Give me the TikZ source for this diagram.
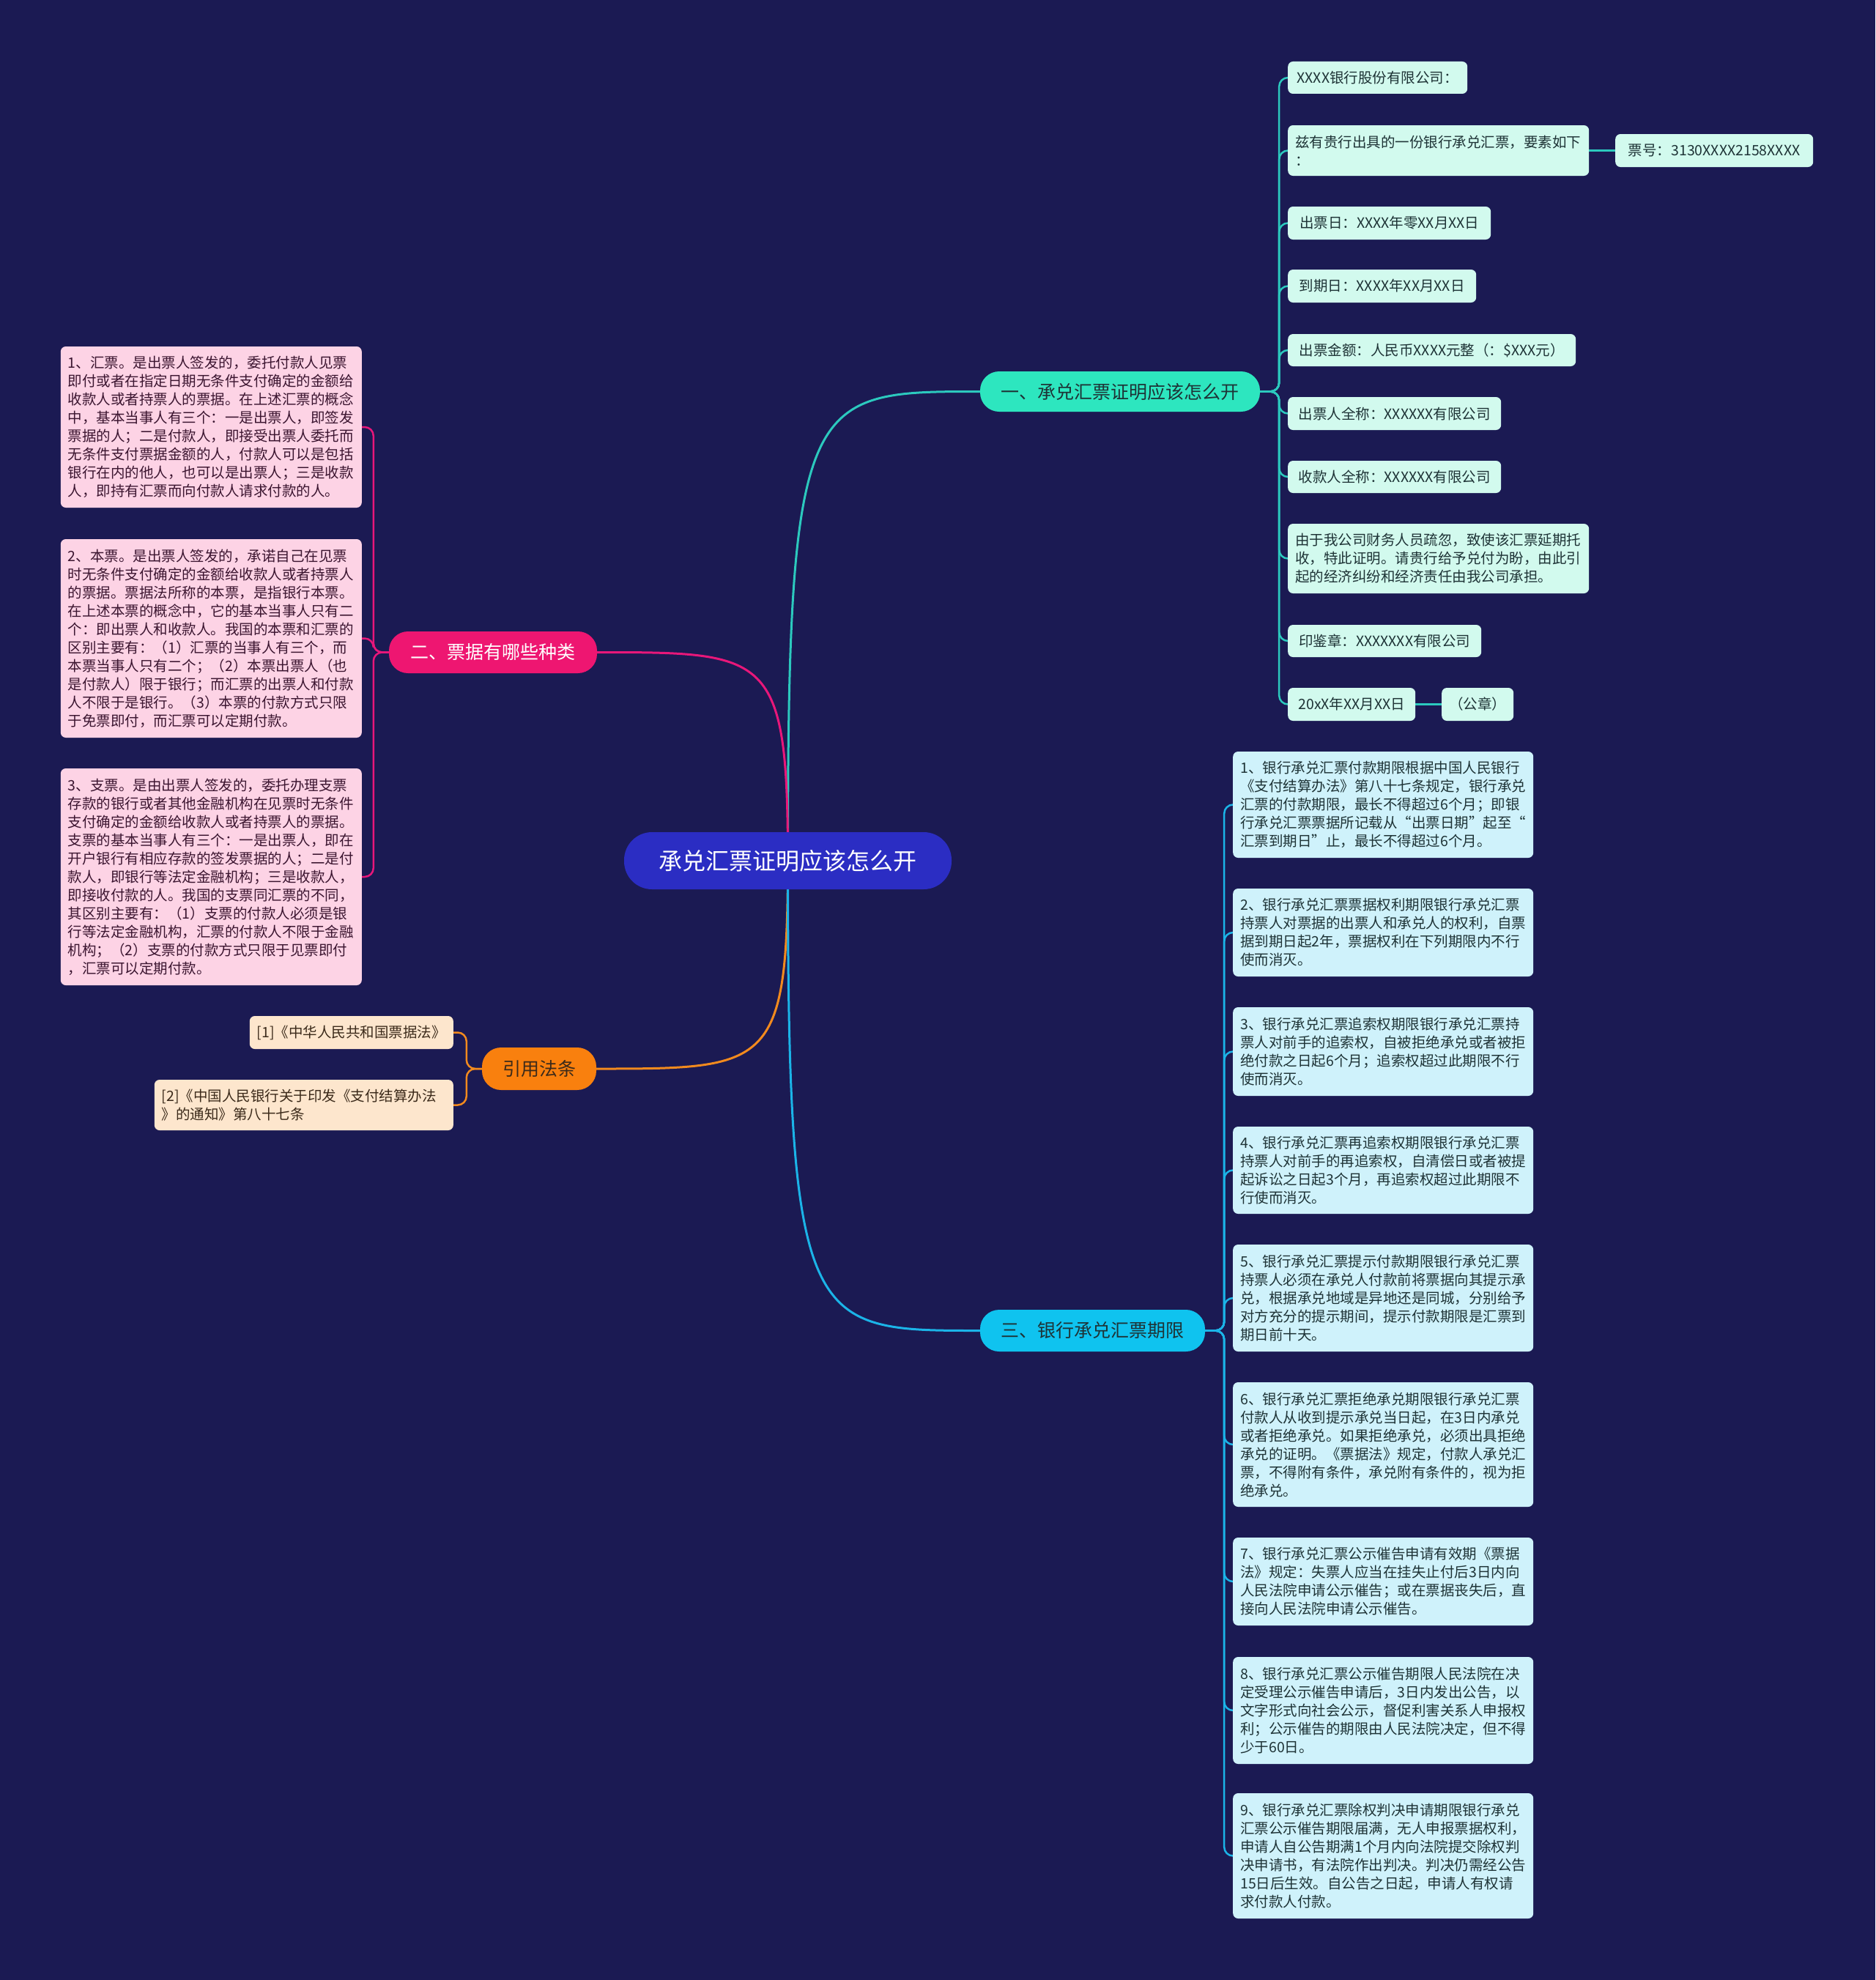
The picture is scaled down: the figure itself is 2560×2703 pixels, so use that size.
\documentclass[tikz,border=0pt]{standalone}
\usepackage{fontspec}
\setmainfont{Noto Sans CJK SC}
\usetikzlibrary{calc}
\definecolor{bgcol}{HTML}{1B1A53}
\definecolor{ctrfill}{HTML}{2B2DC3}
\definecolor{bonefill}{HTML}{2DE6BF}
\definecolor{bonebox}{HTML}{D2FAEE}
\definecolor{boneline}{HTML}{2CC9BE}
\definecolor{btwofill}{HTML}{EE1671}
\definecolor{btwobox}{HTML}{FDD3E5}
\definecolor{btwoline}{HTML}{E8177A}
\definecolor{citefill}{HTML}{F9800E}
\definecolor{citebox}{HTML}{FDE6CD}
\definecolor{citeline}{HTML}{F28A1E}
\definecolor{bthreefill}{HTML}{0FC3EF}
\definecolor{bthreebox}{HTML}{CFF2FB}
\definecolor{bthreeline}{HTML}{1BB4E8}
\definecolor{darktext}{HTML}{1E3336}
\definecolor{pinktext}{HTML}{3B1530}
\definecolor{peachtext}{HTML}{3B2A1A}
\pgfdeclarelayer{bglayer}
\pgfdeclarelayer{edgelayer}
\pgfsetlayers{bglayer,edgelayer,main}
\tikzset{
  lbox/.style={rounded corners=7pt, align=left, inner xsep=10pt, inner ysep=4pt,
    font=\fontsize{19.5}{25}\selectfont},
  minty/.style={lbox, fill=bonebox, text=darktext, anchor=west},
  pinky/.style={lbox, fill=btwobox, text=pinktext, anchor=east},
  peachy/.style={lbox, fill=citebox, text=peachtext, anchor=east},
  cyany/.style={lbox, fill=bthreebox, text=darktext, anchor=west, text width=390pt, minimum height=#1},
  branchnode/.style={rounded corners=26pt, inner sep=0pt, font=\fontsize{25}{30}\selectfont},
  mainline/.style={line width=3pt},
  childline/.style={line width=2.5pt, rounded corners=12pt},
}
\begin{document}
\begin{tikzpicture}[x=1pt,y=1pt]
\begin{pgfonlayer}{bglayer}
\fill[bgcol] (0,0) rectangle (2560,-2703);
\end{pgfonlayer}
\useasboundingbox (0,0) rectangle (2560,-2703);

% center
\node[fill=ctrfill, text=white, rounded corners=38pt, minimum width=447pt, minimum height=78pt,
  inner sep=0pt, font=\fontsize{32}{36}\selectfont] (ctr) at (1075.5,-1175) {承兑汇票证明应该怎么开};

% branches
\node[branchnode, fill=bonefill, text=darktext, minimum width=382pt, minimum height=55pt] (b1) at (1529,-534.5) {一、承兑汇票证明应该怎么开};
\node[branchnode, fill=btwofill, text=white, minimum width=284pt, minimum height=57pt] (b2) at (673,-890.5) {二、票据有哪些种类};
\node[branchnode, fill=citefill, text=peachtext, minimum width=156pt, minimum height=58pt] (cite) at (736,-1459) {引用法条};
\node[branchnode, fill=bthreefill, text=darktext, minimum width=307pt, minimum height=57pt] (b3) at (1491.5,-1816.5) {三、银行承兑汇票期限};

% branch 1 children
\node[minty, minimum width=245pt, minimum height=44pt] (a1) at (1758,-106) {XXXX银行股份有限公司：};
\node[minty, text width=391pt, minimum height=69pt] (a2) at (1758,-205.5) {兹有贵行出具的一份银行承兑汇票，要素如下\\：};
\node[minty, minimum width=270pt, minimum height=45pt] (a2b) at (2205,-205.5) {票号：3130XXXX2158XXXX};
\node[minty, minimum width=277pt, minimum height=45pt] (a3) at (1758,-304.5) {出票日：XXXX年零XX月XX日};
\node[minty, minimum width=257pt, minimum height=45pt] (a4) at (1758,-390.5) {到期日：XXXX年XX月XX日};
\node[minty, minimum width=393pt, minimum height=44pt] (a5) at (1758,-478) {出票金额：人民币XXXX元整（：\$XXX元）};
\node[minty, minimum width=291pt, minimum height=45pt] (a6) at (1758,-564.5) {出票人全称：XXXXXX有限公司};
\node[minty, minimum width=291pt, minimum height=44pt] (a7) at (1758,-651) {收款人全称：XXXXXX有限公司};
\node[minty, text width=391pt, minimum height=95pt] (a8) at (1758,-762.5) {由于我公司财务人员疏忽，致使该汇票延期托\\收，特此证明。请贵行给予兑付为盼，由此引\\起的经济纠纷和经济责任由我公司承担。};
\node[minty, minimum width=264pt, minimum height=44pt] (a9) at (1758,-875) {印鉴章：XXXXXXX有限公司};
\node[minty, minimum width=174pt, minimum height=45pt] (a10) at (1758,-961.5) {20xX年XX月XX日};
\node[minty, minimum width=98pt, minimum height=45pt] (a10b) at (1968,-961.5) {（公章）};

% branch 2 children
\node[pinky, text width=391pt, minimum height=220pt] (p1) at (494,-583) {1、汇票。是出票人签发的，委托付款人见票\\即付或者在指定日期无条件支付确定的金额给\\收款人或者持票人的票据。在上述汇票的概念\\中，基本当事人有三个：一是出票人，即签发\\票据的人；二是付款人，即接受出票人委托而\\无条件支付票据金额的人，付款人可以是包括\\银行在内的他人，也可以是出票人；三是收款\\人，即持有汇票而向付款人请求付款的人。};
\node[pinky, text width=391pt, minimum height=271pt] (p2) at (494,-871.5) {2、本票。是出票人签发的，承诺自己在见票\\时无条件支付确定的金额给收款人或者持票人\\的票据。票据法所称的本票，是指银行本票。\\在上述本票的概念中，它的基本当事人只有二\\个：即出票人和收款人。我国的本票和汇票的\\区别主要有：（1）汇票的当事人有三个，而\\本票当事人只有二个；（2）本票出票人（也\\是付款人）限于银行；而汇票的出票人和付款\\人不限于是银行。（3）本票的付款方式只限\\于免票即付，而汇票可以定期付款。};
\node[pinky, text width=391pt, minimum height=296pt] (p3) at (494,-1197) {3、支票。是由出票人签发的，委托办理支票\\存款的银行或者其他金融机构在见票时无条件\\支付确定的金额给收款人或者持票人的票据。\\支票的基本当事人有三个：一是出票人，即在\\开户银行有相应存款的签发票据的人；二是付\\款人，即银行等法定金融机构；三是收款人，\\即接收付款的人。我国的支票同汇票的不同，\\其区别主要有：（1）支票的付款人必须是银\\行等法定金融机构，汇票的付款人不限于金融\\机构；（2）支票的付款方式只限于见票即付\\，汇票可以定期付款。};

% citation children
\node[peachy, minimum width=277pt, minimum height=45pt] (c1) at (619,-1409.5) {[1]《中华人民共和国票据法》};
\node[peachy, text width=388pt, minimum height=69pt] (c2) at (619,-1508.5) {[2]《中国人民银行关于印发《支付结算办法\\》的通知》第八十七条};

% branch 3 children
\node[cyany=145pt] (t1) at (1683,-1098.5) {1、银行承兑汇票付款期限根据中国人民银行\\《支付结算办法》第八十七条规定，银行承兑\\汇票的付款期限，最长不得超过6个月；即银\\行承兑汇票票据所记载从“出票日期”起至“\\汇票到期日”止，最长不得超过6个月。};
\node[cyany=120pt] (t2) at (1683,-1273) {2、银行承兑汇票票据权利期限银行承兑汇票\\持票人对票据的出票人和承兑人的权利，自票\\据到期日起2年，票据权利在下列期限内不行\\使而消灭。};
\node[cyany=121pt] (t3) at (1683,-1435.5) {3、银行承兑汇票追索权期限银行承兑汇票持\\票人对前手的追索权，自被拒绝承兑或者被拒\\绝付款之日起6个月；追索权超过此期限不行\\使而消灭。};
\node[cyany=119pt] (t4) at (1683,-1597.5) {4、银行承兑汇票再追索权期限银行承兑汇票\\持票人对前手的再追索权，自清偿日或者被提\\起诉讼之日起3个月，再追索权超过此期限不\\行使而消灭。};
\node[cyany=146pt] (t5) at (1683,-1772) {5、银行承兑汇票提示付款期限银行承兑汇票\\持票人必须在承兑人付款前将票据向其提示承\\兑，根据承兑地域是异地还是同城，分别给予\\对方充分的提示期间，提示付款期限是汇票到\\期日前十天。};
\node[cyany=170pt] (t6) at (1683,-1972) {6、银行承兑汇票拒绝承兑期限银行承兑汇票\\付款人从收到提示承兑当日起，在3日内承兑\\或者拒绝承兑。如果拒绝承兑，必须出具拒绝\\承兑的证明。《票据法》规定，付款人承兑汇\\票，不得附有条件，承兑附有条件的，视为拒\\绝承兑。};
\node[cyany=120pt] (t7) at (1683,-2159) {7、银行承兑汇票公示催告申请有效期《票据\\法》规定：失票人应当在挂失止付后3日内向\\人民法院申请公示催告；或在票据丧失后，直\\接向人民法院申请公示催告。};
\node[cyany=146pt] (t8) at (1683,-2335) {8、银行承兑汇票公示催告期限人民法院在决\\定受理公示催告申请后，3日内发出公告，以\\文字形式向社会公示，督促利害关系人申报权\\利；公示催告的期限由人民法院决定，但不得\\少于60日。};
\node[cyany=171pt] (t9) at (1683,-2533.5) {9、银行承兑汇票除权判决申请期限银行承兑\\汇票公示催告期限届满，无人申报票据权利，\\申请人自公告期满1个月内向法院提交除权判\\决申请书，有法院作出判决。判决仍需经公告\\15日后生效。自公告之日起，申请人有权请\\求付款人付款。};

\begin{pgfonlayer}{edgelayer}
% main curves
\draw[mainline, boneline] (ctr.center) .. controls (ctr.center |- b1.west) and ($(ctr.center |- b1.west)!0.1!(b1.west)$) .. (b1.west);
\draw[mainline, btwoline] (ctr.center) .. controls (ctr.center |- b2.east) and ($(ctr.center |- b2.east)!0.1!(b2.east)$) .. (b2.east);
\draw[mainline, citeline] (ctr.center) .. controls (ctr.center |- cite.east) and ($(ctr.center |- cite.east)!0.1!(cite.east)$) .. (cite.east);
\draw[mainline, bthreeline] (ctr.center) .. controls (ctr.center |- b3.west) and ($(ctr.center |- b3.west)!0.1!(b3.west)$) .. (b3.west);
% branch 1 children
\foreach \c in {a1,a2,a3,a4,a5,a6,a7,a8,a9,a10}
  \draw[childline, boneline] (b1.east) -- ++(26,0) |- (\c.west);
\draw[childline, boneline] (a2.east) -- (a2b.west);
\draw[childline, boneline] (a10.east) -- (a10b.west);
% branch 2 children
\foreach \c in {p1,p2,p3}
  \draw[childline, btwoline] (b2.west) -- ++(-21,0) |- (\c.east);
% citation children
\foreach \c in {c1,c2}
  \draw[childline, citeline] (cite.west) -- ++(-21,0) |- (\c.east);
% branch 3 children
\foreach \c in {t1,t2,t3,t4,t5,t6,t7,t8,t9}
  \draw[childline, bthreeline] (b3.east) -- ++(26,0) |- (\c.west);
\end{pgfonlayer}
\end{tikzpicture}
\end{document}
